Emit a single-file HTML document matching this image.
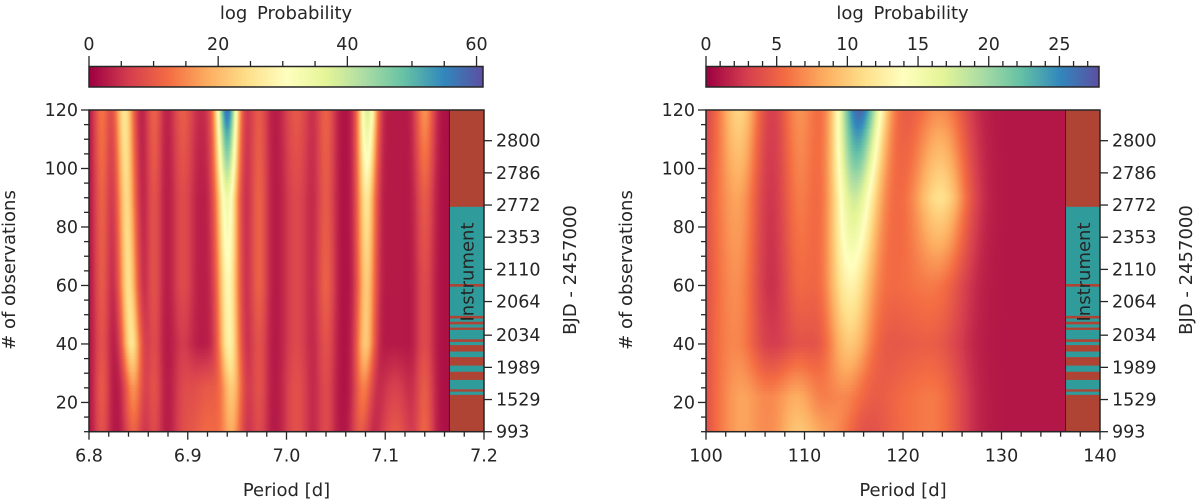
<!DOCTYPE html>
<html><head><meta charset="utf-8">
<style>
html,body{margin:0;padding:0;background:#fff;}
#wrap{position:relative;width:1200px;height:503px;overflow:hidden;font-family:"DejaVu Sans","Liberation Sans",sans-serif;color:#262626;}
canvas{position:absolute;}
svg{position:absolute;left:0;top:0;}
</style></head>
<body>
<div id="wrap">
<canvas id="hmL"></canvas>
<canvas id="hmR"></canvas>
<canvas id="cbL"></canvas>
<canvas id="cbR"></canvas>
<svg id="ov" width="1200" height="503"></svg>
</div>
<script>
// ---- data ----
const obsAnchors = [10, 25, 40, 60, 90, 120];
const leftCenters = [
 [6.813,6.813,6.813,6.813,6.813,6.813],
 [6.845,6.845,6.843,6.840,6.838,6.836],
 [6.866,6.866,6.866,6.866,6.866,6.866],
 [6.895,6.895,6.895,6.895,6.895,6.895],
 [6.945,6.945,6.942,6.941,6.940,6.940],
 [6.972,6.972,6.972,6.972,6.972,6.972],
 [7.010,7.010,7.010,7.010,7.010,7.010],
 [7.040,7.040,7.040,7.040,7.040,7.040],
 [7.075,7.078,7.080,7.081,7.081,7.082],
 [7.140,7.140,7.140,7.140,7.140,7.140],
 [6.920,6.920,6.920,6.920,6.920,6.920],
 [7.110,7.110,7.110,7.110,7.110,7.110]
];
const leftWidths = [0.006,0.007,0.006,0.008,0.008,0.007,0.010,0.007,0.007,0.007,0.015,0.012];
const leftAmps = [
 [7,8,7,8,9,11],
 [9,14,24,23,22,24],
 [6,7,6,7,7,9],
 [4,4,4,6,6,8],
 [14,18,26,27,32,55],
 [6,7,7,9,9,8],
 [7,7,6,6,6,8],
 [6,6,7,9,8,9],
 [8,12,20,20,24,36],
 [9,8,6,6,8,14],
 [10,8,1,1,1,2],
 [8,5,1,1,1,1]
];
const rightAnchors = [10, 22, 40, 60, 90, 120];
const rightCenters = [
 [103.5,103.5,103.5,103.5,103.5,103.5],
 [109.5,109.5,109.5,109.5,109.5,109.5],
 [113,114,114.5,114.5,115,115.5],
 [124,124,124,124,124,124],
 [107,107,107,107,107,107],
 [120,120,120,120,120,120],
 [101,101,101,101,101,101]
];
const rightWidths = [1.5,1.5,1.8,2,4,3,1.5];
const rightAmps = [
 [3,3,4,5,6,9],
 [4,3,2,4,5,6],
 [4,4,8,11,16,25],
 [3,3,2,3,9,5],
 [5,5,1,0,0,0],
 [4,4,3,4,3,2],
 [2,2,3,3,3,2]
];
const tealRanges = [[22.6,23.7],[24.5,27.7],[30.5,32.6],[35.5,37.4],[39.6,40.7],[41.6,44.8],[45.6,46.7],[47.6,48.7],[49.6,59.6],[60.5,86.9]];
const bjdTicksObs = [10,21,32,43,54.5,65.5,76.5,87.5,98.5,109.5];
const bjdLabels = ["993","1529","1989","2034","2064","2110","2353","2772","2786","2800"];
const leftXTicks = [6.8,6.9,7.0,7.1,7.2];
const leftXLabels = ["6.8","6.9","7.0","7.1","7.2"];
const rightXTicks = [100,110,120,130,140];
const yTicks = [20,40,60,80,100,120];
const cbLTicks = [0,20,40,60];
const cbRTicks = [0,5,10,15,20,25];

// ---- colormap Spectral_r ----
const cmap = ["#9e0142","#d53e4f","#f46d43","#fdae61","#fee08b","#ffffbf","#e6f598","#abdda4","#66c2a5","#3288bd","#5e4fa2"].map(h=>[parseInt(h.substr(1,2),16),parseInt(h.substr(3,2),16),parseInt(h.substr(5,2),16)]);
function col(t){t=Math.max(0,Math.min(1,t));const f=t*10,i=Math.min(9,Math.floor(f)),r=f-i;const a=cmap[i],b=cmap[i+1];return [a[0]+(b[0]-a[0])*r,a[1]+(b[1]-a[1])*r,a[2]+(b[2]-a[2])*r];}
function interp(anch,vals,o){if(o<=anch[0])return vals[0];for(let i=1;i<anch.length;i++){if(o<=anch[i]){const r=(o-anch[i-1])/(anch[i]-anch[i-1]);return vals[i-1]+(vals[i]-vals[i-1])*r;}}return vals[vals.length-1];}

const yTop=110, yBot=431.7, oMin=10, oMax=120;
const yS = o => yBot-(o-oMin)*(yBot-yTop)/(oMax-oMin);
const P = {
 L:{x0:89,x1:484,pMin:6.8,pMax:7.2,hmEnd:7.165,vmax:61,base:1.5,anch:obsAnchors,C:leftCenters,W:leftWidths,A:leftAmps,cb:[89,483],cbTicks:cbLTicks,cbMinor:5,xTicks:leftXTicks,xLabels:leftXLabels,xMinor:0.02,id:"hmL",cbid:"cbL",name:"left"},
 R:{x0:706,x1:1100,pMin:100,pMax:140,hmEnd:136.5,vmax:27.8,base:1,anch:rightAnchors,C:rightCenters,W:rightWidths,A:rightAmps,cb:[706,1099],cbTicks:cbRTicks,cbMinor:1,xTicks:rightXTicks,xLabels:rightXTicks.map(String),xMinor:2,id:"hmR",cbid:"cbR",name:"right"}
};
const ov=document.getElementById('ov');
const NS="http://www.w3.org/2000/svg";
function el(tag,attrs,text){const e=document.createElementNS(NS,tag);for(const k in attrs)e.setAttribute(k,attrs[k]);if(text!==undefined)e.textContent=text;ov.appendChild(e);return e;}
const FS=17.5, FT=18;

for(const key of ["L","R"]){
 const c=P[key];
 const xS=p=>c.x0+(p-c.pMin)*(c.x1-c.x0)/(c.pMax-c.pMin);
 const hx0=c.x0, hx1=xS(c.hmEnd);
 const cv=document.getElementById(c.id);
 const w=Math.round(hx1-hx0), h=Math.round(yBot-yTop);
 cv.width=w;cv.height=h;cv.style.left=hx0+'px';cv.style.top=yTop+'px';
 const ctx=cv.getContext('2d');const img=ctx.createImageData(w,h);
 for(let j=0;j<h;j++){
  const o=Math.floor(oMax-(j+0.5)*(oMax-oMin)/h)+0.5;
  const cs=c.C.map(r=>interp(c.anch,r,o)), as=c.A.map(r=>interp(c.anch,r,o));
  for(let i=0;i<w;i++){
   const p=c.pMin+(i+0.5)*(c.pMax-c.pMin)/(c.x1-c.x0);
   let v=c.base;
   for(let k=0;k<cs.length;k++){const d=(p-cs[k])/c.W[k];v+=as[k]*Math.exp(-0.5*d*d);}
   const rgb=col(v/c.vmax);const idx=(j*w+i)*4;
   img.data[idx]=rgb[0];img.data[idx+1]=rgb[1];img.data[idx+2]=rgb[2];img.data[idx+3]=255;
  }
 }
 ctx.putImageData(img,0,0);
 // colorbar
 const cb=document.getElementById(c.cbid);const cw=Math.round(c.cb[1]-c.cb[0]);
 cb.width=cw;cb.height=20;cb.style.left=c.cb[0]+'px';cb.style.top='67px';
 const cctx=cb.getContext('2d');
 for(let i=0;i<cw;i++){const rgb=col(i/cw);cctx.fillStyle=`rgb(${rgb[0]|0},${rgb[1]|0},${rgb[2]|0})`;cctx.fillRect(i,0,1,20);}
 let e=el('rect',{x:c.cb[0],y:66.5,width:c.cb[1]-c.cb[0],height:20.5,fill:'none',stroke:'#262626','stroke-width':1.5});
 
 const cbS=v=>c.cb[0]+v*(c.cb[1]-c.cb[0])/c.vmax;
 for(let v=0;v<=c.vmax;v+=c.cbMinor){const major=c.cbTicks.includes(v);el('line',{x1:cbS(v),x2:cbS(v),y1:66,y2:major?56:61,stroke:'#262626','stroke-width':1.3});}
 for(const v of c.cbTicks){e=el('text',{x:cbS(v),y:50,'text-anchor':'middle','font-size':FS,fill:'#262626'},String(v));
  }
 e=el('text',{x:(c.cb[0]+c.cb[1])/2,y:19,'text-anchor':'middle','font-size':FT,fill:'#262626','word-spacing':'4px'},'log Probability');
 
 // instrument bar
 e=el('rect',{x:hx1,y:yTop,width:c.x1-hx1,height:yBot-yTop,fill:'#b04434'});
 
 for(const r of tealRanges){e=el('rect',{x:hx1,y:yS(r[1]),width:c.x1-hx1,height:yS(r[0])-yS(r[1]),fill:'#2f9b9b'});
  }
 e=el('text',{x:0,y:0,'text-anchor':'middle','font-size':FT,fill:'#262626',transform:`translate(${(hx1+c.x1)/2+7},272) rotate(-90)`},'Instrument');
 
 el('line',{x1:hx1,x2:hx1,y1:yTop,y2:yBot,stroke:'#262626','stroke-width':1});
 e=el('rect',{x:c.x0,y:yTop,width:c.x1-c.x0,height:yBot-yTop,fill:'none',stroke:'#262626','stroke-width':1.5});
 
 // y ticks
 for(let o=10;o<=120;o+=5){const major=yTicks.includes(o);el('line',{x1:c.x0,x2:c.x0-(major?8:5),y1:yS(o),y2:yS(o),stroke:'#262626','stroke-width':1.3});}
 for(const o of yTicks){e=el('text',{x:c.x0-11,y:yS(o)+6,'text-anchor':'end','font-size':FS,fill:'#262626'},String(o));
  }
 e=el('text',{x:0,y:0,'text-anchor':'middle','font-size':FT,fill:'#262626',transform:`translate(${c.x0-74},270) rotate(-90)`},'# of observations');
 
 // right BJD ticks
 bjdTicksObs.forEach((o,i)=>{el('line',{x1:c.x1,x2:c.x1+8,y1:yS(o),y2:yS(o),stroke:'#262626','stroke-width':1.3});
  e=el('text',{x:c.x1+12,y:yS(o)+6,'font-size':FS,fill:'#262626'},bjdLabels[i]);
  });
 e=el('text',{x:0,y:0,'text-anchor':'middle','font-size':FT,fill:'#262626',transform:`translate(${c.x1+92},270) rotate(-90)`},'BJD - 2457000');
 
 // x ticks
 const nMin=Math.round((c.pMax-c.pMin)/c.xMinor);
 for(let k=0;k<=nMin;k++){const p=c.pMin+k*c.xMinor;const major=c.xTicks.some(t=>Math.abs(t-p)<1e-9);
  el('line',{x1:xS(p),x2:xS(p),y1:yBot,y2:yBot+(major?8:5),stroke:'#262626','stroke-width':1.3});}
 c.xTicks.forEach((p,i)=>{e=el('text',{x:xS(p),y:yBot+30,'text-anchor':'middle','font-size':FS,fill:'#262626'},c.xLabels[i]);
  });
 e=el('text',{x:(c.x0+c.x1)/2,y:496,'text-anchor':'middle','font-size':FT,fill:'#262626'},'Period [d]');
 
}
</script>
</body></html>
